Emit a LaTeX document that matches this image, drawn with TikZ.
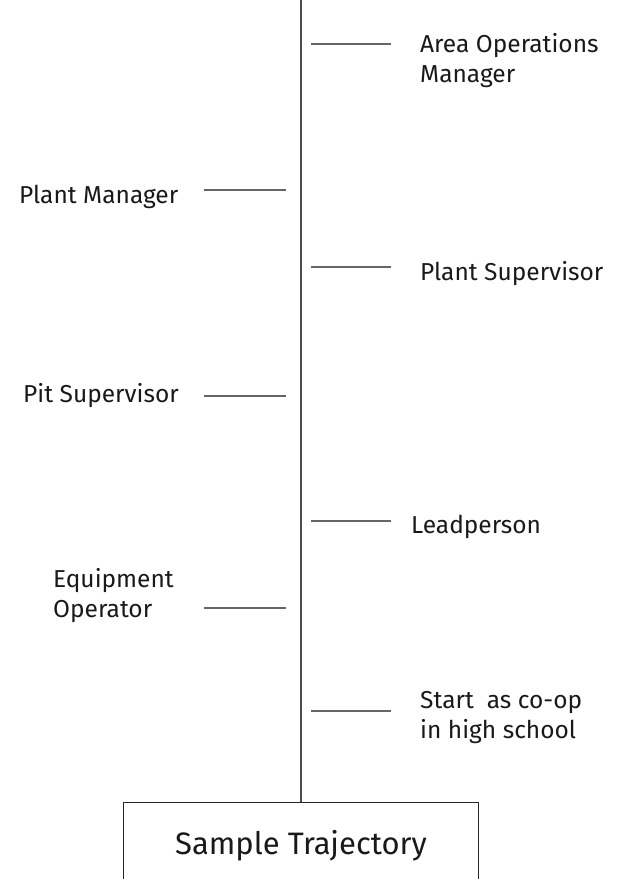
\documentclass[tikz,border=0pt]{standalone}
\usepackage{fontspec}
\setmainfont{Fira Sans}
\begin{document}
\begin{tikzpicture}[x=1pt,y=-1pt,
  tick/.style={draw=black!60, line width=1.6pt},
  lbl/.style={font=\fontsize{24.5}{30}\selectfont, text=black!90, inner sep=0pt, align=left},
  box/.style={draw=black!85, line width=1.4pt, minimum width=355pt, minimum height=100pt, anchor=north}]
\useasboundingbox (0,0) rectangle (627,879);
\coordinate (top) at (301,0);
\node[box] (st) at (301,802) {};
\node[font=\fontsize{31}{36}\selectfont, text=black!90] (stt) at (301,846) {Sample Trajectory};
\draw[draw=black!70, line width=1.8pt] (top) -- (st.north);
% right ticks
\coordinate (r1a) at (311,44); \coordinate (r1b) at (391,44);
\coordinate (r2a) at (311,267); \coordinate (r2b) at (391,267);
\coordinate (r3a) at (311,521); \coordinate (r3b) at (391,521);
\coordinate (r4a) at (311,711); \coordinate (r4b) at (391,711);
\draw[tick] (r1a) -- (r1b);
\draw[tick] (r2a) -- (r2b);
\draw[tick] (r3a) -- (r3b);
\draw[tick] (r4a) -- (r4b);
% left ticks
\coordinate (l1a) at (204,190); \coordinate (l1b) at (286,190);
\coordinate (l2a) at (204,396); \coordinate (l2b) at (286,396);
\coordinate (l3a) at (204,608); \coordinate (l3b) at (286,608);
\draw[tick] (l1a) -- (l1b);
\draw[tick] (l2a) -- (l2b);
\draw[tick] (l3a) -- (l3b);
% labels
\node[lbl, anchor=west] (aom) at (420,61) {Area Operations\\Manager};
\node[lbl, anchor=west] (pm) at (19,197) {Plant Manager};
\node[lbl, anchor=west] (ps) at (420,274) {Plant Supervisor};
\node[lbl, anchor=west] (pit) at (23,396) {Pit Supervisor};
\node[lbl, anchor=west] (lp) at (411,527) {Leadperson};
\node[lbl, anchor=west] (eo) at (53,596) {Equipment\\Operator};
\node[lbl, anchor=west] (co) at (420,718) {Start\ \ as co-op\\in high school};
\end{tikzpicture}
\end{document}
